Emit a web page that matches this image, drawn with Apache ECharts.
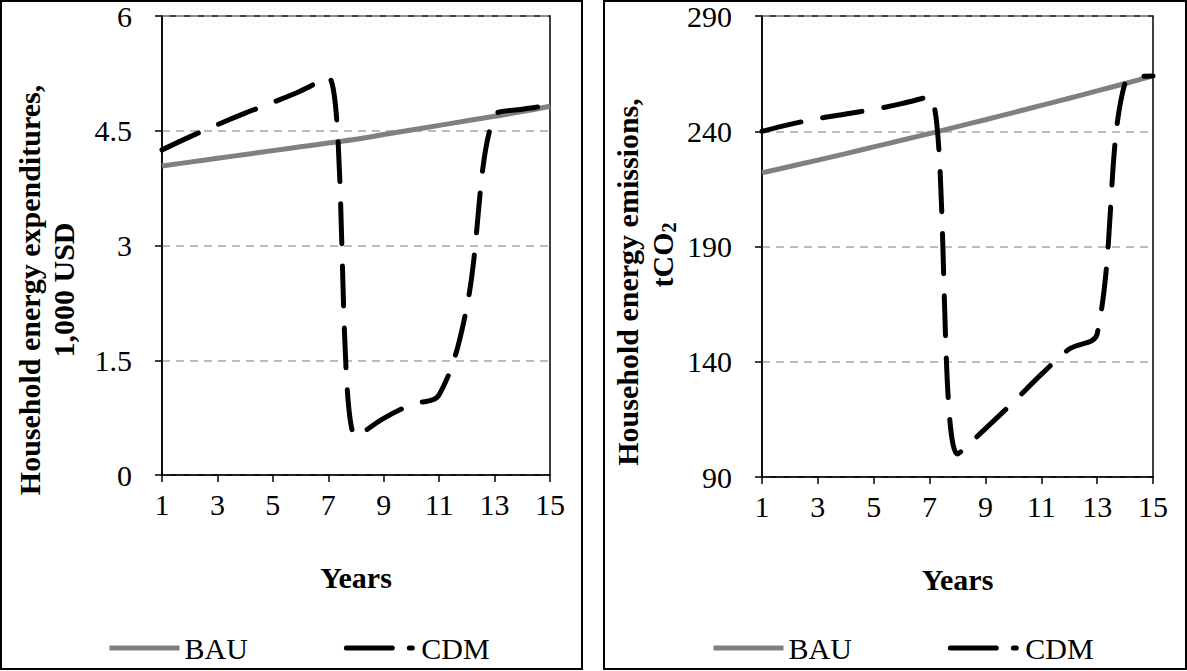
<!DOCTYPE html>
<html lang="en">
<head>
    <meta charset="UTF-8">
    <title>BAU vs CDM</title>
    <script src="https://cdn.jsdelivr.net/npm/echarts@6/dist/echarts.min.js"></script>
    <style>
        html, body { margin: 0; padding: 0; background: #fff; }
        #main { width: 1187px; height: 671px; }
    </style>
</head>
<body>
<div id="main"></div>
<script>
    // years on the x axis
    var years = [1, 2, 3, 4, 5, 6, 7, 8, 9, 10, 11, 12, 13, 14, 15];

    // left panel: expenditures, 1,000 USD
    var costBAU = [4.04, 4.09, 4.14, 4.19, 4.24, 4.29, 4.34, 4.39, 4.45, 4.51, 4.57, 4.63, 4.69, 4.75, 4.82];
    var costCDM = [4.25, 4.42, 4.58, 4.73, 4.87, 5.02, 5.20, 0.50, 0.74, 0.92, 1.05, 2.20, 4.70, 4.78, 4.83];

    // right panel: emissions, tCO2
    var emisBAU = [222, 224.7, 227.5, 230.3, 233.2, 236.1, 239, 242, 245, 248.1, 251.2, 254.3, 257.5, 260.7, 264];
    var emisCDM = [240, 243, 245.5, 247.5, 249.5, 252, 255, 100, 111, 122.5, 134.5, 145.5, 152, 261, 264];

    var font = '"Liberation Serif", "Times New Roman", serif';

    function pairs(ys) {
        return years.map(function (x, i) { return [x, ys[i]]; });
    }

    function xAxisFor(gi) {
        return {
            type: 'value', gridIndex: gi, min: 1, max: 15, interval: 2,
            name: 'Years', nameLocation: 'middle', nameGap: 87,
            nameTextStyle: { fontFamily: font, fontSize: 30, fontWeight: 'bold', color: '#000' },
            axisLine: { lineStyle: { color: '#000', width: 1.5 } },
            axisTick: { show: true, length: 7, lineStyle: { color: '#000', width: 1.5 } },
            axisLabel: { fontFamily: font, fontSize: 30, color: '#000', margin: 14 },
            splitLine: { show: false }
        };
    }

    function yAxisFor(gi, min, max, step) {
        return {
            type: 'value', gridIndex: gi, min: min, max: max, interval: step,
            axisLine: { show: true, lineStyle: { color: '#000', width: 1.5 } },
            axisTick: { show: true, length: 7, lineStyle: { color: '#000', width: 1.5 } },
            axisLabel: { fontFamily: font, fontSize: 30, color: '#000', margin: 30 },
            splitLine: { show: true, lineStyle: { color: '#a6a6a6', width: 1.5, type: [8, 6] } }
        };
    }

    function lineSeries(name, gi, ys) {
        var isBau = name === 'BAU';
        return {
            name: name, type: 'line', xAxisIndex: gi, yAxisIndex: gi,
            data: pairs(ys), smooth: 0.35, symbol: 'none',
            lineStyle: isBau
                ? { color: '#808080', width: 5 }
                : { color: '#000', width: 5, type: [40, 22], cap: 'round' },
            itemStyle: { color: isBau ? '#808080' : '#000' },
            z: isBau ? 2 : 3
        };
    }

    function legendFor(left) {
        return {
            left: left, top: 628, itemWidth: 70, itemHeight: 20, itemGap: 96,
            textStyle: { fontFamily: font, fontSize: 30, color: '#000' },
            data: [
                { name: 'BAU', itemStyle: { opacity: 0 },
                  lineStyle: { width: 5, color: '#808080' } },
                { name: 'CDM', itemStyle: { opacity: 0 },
                  lineStyle: { type: [46, 17, 3, 40], width: 5, color: '#000', cap: 'round' } }
            ]
        };
    }

    var chart = echarts.init(document.getElementById('main'), null, { renderer: 'svg' });

    var option = {
        animation: false,
        backgroundColor: '#fff',
        grid: [
            { left: 162, top: 16, width: 388, height: 459, show: true, borderColor: '#000', borderWidth: 1.5 },
            { left: 762, top: 16, width: 391, height: 461, show: true, borderColor: '#000', borderWidth: 1.5 }
        ],
        xAxis: [xAxisFor(0), xAxisFor(1)],
        yAxis: [yAxisFor(0, 0, 6, 1.5), yAxisFor(1, 90, 290, 50)],
        legend: [legendFor(102), legendFor(706)],
        series: [
            lineSeries('BAU', 0, costBAU),
            lineSeries('CDM', 0, costCDM),
            lineSeries('BAU', 1, emisBAU),
            lineSeries('CDM', 1, emisCDM)
        ],
        graphic: [
            { type: 'rect', shape: { x: 1, y: 1, width: 581, height: 668 },
              style: { fill: 'none', stroke: '#000', lineWidth: 2 }, silent: true },
            { type: 'rect', shape: { x: 604, y: 1, width: 582, height: 668 },
              style: { fill: 'none', stroke: '#000', lineWidth: 2 }, silent: true },
            { type: 'text', x: 29, y: 290, rotation: Math.PI / 2,
              style: { text: 'Household energy expenditures,', font: 'bold 30px ' + font,
                       fill: '#000', align: 'center', verticalAlign: 'middle' } },
            { type: 'text', x: 63, y: 290, rotation: Math.PI / 2,
              style: { text: '1,000 USD', font: 'bold 30px ' + font,
                       fill: '#000', align: 'center', verticalAlign: 'middle' } },
            { type: 'text', x: 627, y: 282, rotation: Math.PI / 2,
              style: { text: 'Household energy emissions,', font: 'bold 30px ' + font,
                       fill: '#000', align: 'center', verticalAlign: 'middle' } },
            { type: 'text', x: 662, y: 255, rotation: Math.PI / 2,
              style: { text: '{n|tCO}{s|2}', fill: '#000', align: 'center', verticalAlign: 'middle',
                       rich: {
                           n: { fontFamily: font, fontSize: 30, fontWeight: 'bold', lineHeight: 34 },
                           s: { fontFamily: font, fontSize: 20, fontWeight: 'bold', lineHeight: 34,
                                verticalAlign: 'bottom', padding: [16, 0, 0, 0] }
                       } } }
        ]
    };

    chart.setOption(option);

    window.onresize = function () {
        chart.resize();
    };
</script>
</body>
</html>
